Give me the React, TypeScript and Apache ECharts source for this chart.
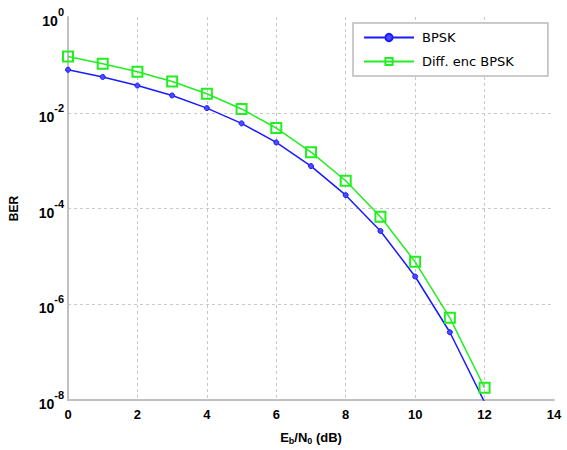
import React, { useEffect, useRef } from "react";
import * as echarts from "echarts";

const ebn0 = [0, 1, 2, 3, 4, 5, 6, 7, 8, 9, 10, 11, 12];
const bpsk = [0.079, 0.056, 0.037, 0.023, 0.0125, 0.006, 0.0024, 0.00077, 0.00019, 3.4e-5, 3.8e-6, 2.6e-7, 9e-9];
const diffBpsk = [0.15, 0.106, 0.072, 0.045, 0.025, 0.012, 0.0048, 0.0015, 0.00038, 6.7e-5, 7.7e-6, 5.2e-7, 1.8e-8];
const seriesNames = ["BPSK", "Diff. enc BPSK"];

export default function App() {
  const ref = useRef<HTMLDivElement>(null);
  useEffect(() => {
    const chart = echarts.init(ref.current!, undefined, { renderer: "svg" });
    const font = "'Liberation Sans', Arial, sans-serif";
    const legendFont = "'DejaVu Sans', sans-serif";
    chart.setOption({
      animation: false,
      backgroundColor: "#ffffff",
      grid: { left: 64, top: 17, right: 13, bottom: 45 },
      legend: {
        left: 353,
        top: 23,
        orient: "vertical",
        backgroundColor: "#ffffff",
        borderColor: "#bbbbbb",
        borderWidth: 1.5,
        padding: [8, 34, 8, 10],
        itemGap: 11,
        itemWidth: 50,
        itemHeight: 9,
        textStyle: { fontFamily: legendFont, fontSize: 13, color: "#000", padding: [0, 0, 0, 3] },
        data: seriesNames,
      },
      xAxis: {
        type: "value",
        min: 0,
        max: 14,
        interval: 2,
        name: "{n|E}{sub|b}{n|/N}{sub|0}{n| (dB)}",
        nameLocation: "middle",
        nameGap: 30,
        nameTextStyle: {
          rich: {
            n: { fontFamily: font, fontSize: 13, fontWeight: "bold", color: "#000" },
            sub: { fontFamily: font, fontSize: 9, fontWeight: "bold", color: "#000", padding: [6, 0, 0, 0] },
          },
        },
        axisLine: { show: true, lineStyle: { color: "#c0c0c0", width: 2 } },
        axisTick: { show: false },
        axisLabel: { fontFamily: font, fontSize: 13, fontWeight: "bold", color: "#000", margin: 8 },
        splitLine: {
          show: true,
          showMinLine: false,
          showMaxLine: false,
          lineStyle: { color: "#c8c8c8", type: [3, 3], width: 1 },
        },
      },
      yAxis: {
        type: "log",
        logBase: 10,
        min: 1e-8,
        max: 1,
        interval: 2,
        name: "BER",
        nameLocation: "middle",
        nameGap: 48,
        nameRotate: 90,
        nameTextStyle: { fontFamily: font, fontSize: 12, fontWeight: "bold", color: "#000" },
        axisLine: { show: true, lineStyle: { color: "#c0c0c0", width: 2 } },
        axisTick: { show: false },
        axisLabel: {
          margin: 4,
          formatter: (v: number) => {
            const e = Math.round(Math.log10(v));
            return "{b|10}{s|" + e + "}";
          },
          rich: {
            b: { fontFamily: font, fontSize: 14, fontWeight: "bold", color: "#000", padding: [8, 0, 0, 0] },
            s: { fontFamily: font, fontSize: 11, fontWeight: "bold", color: "#000", padding: [0, 0, 10, 0] },
          },
        },
        splitLine: {
          show: true,
          showMinLine: false,
          showMaxLine: false,
          lineStyle: { color: "#c8c8c8", type: [3, 3], width: 1 },
        },
      },
      series: [
        {
          name: seriesNames[0],
          type: "line",
          data: ebn0.map((x, i) => [x, bpsk[i]]),
          clip: true,
          symbol: "circle",
          symbolSize: 5,
          lineStyle: { color: "#1a1aff", width: 1.5 },
          itemStyle: { color: "#4a4aff", borderColor: "#1a1aff", borderWidth: 1 },
        },
        {
          name: seriesNames[1],
          type: "line",
          data: ebn0.map((x, i) => [x, diffBpsk[i]]),
          clip: true,
          symbol: "rect",
          symbolSize: 10,
          lineStyle: { color: "#22ee22", width: 1.5 },
          itemStyle: { color: "rgba(255,255,255,0)", borderColor: "#22ee22", borderWidth: 2 },
        },
      ],
    });
    return () => chart.dispose();
  }, []);
  return (
    <div
      ref={ref}
      style={{ position: "fixed", left: 0, top: 0, width: 567, height: 450, background: "#fff" }}
    />
  );
}
